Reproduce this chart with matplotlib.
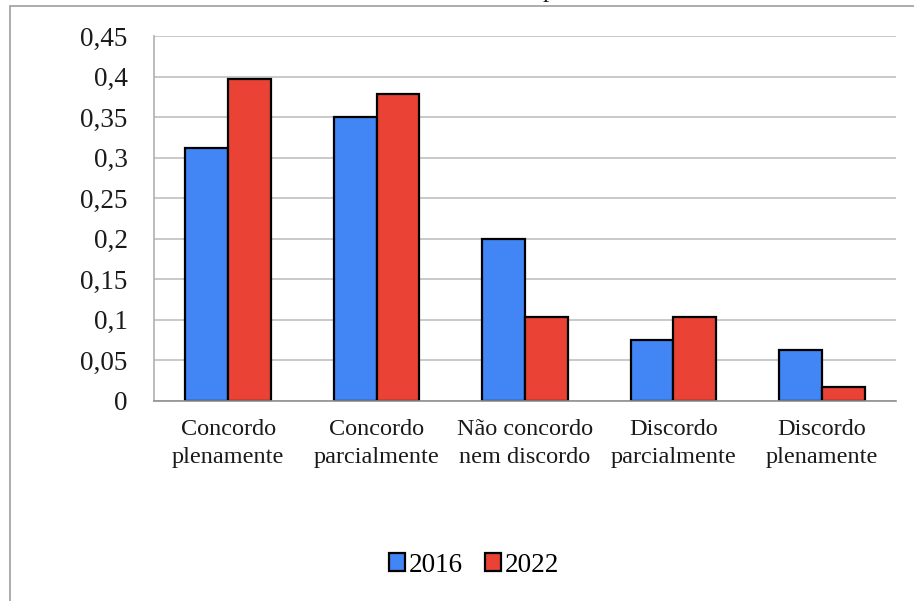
import matplotlib.pyplot as plt
import numpy as np
from matplotlib.patches import Rectangle

# dados
categorias = ['Concordo\nplenamente', 'Concordo\nparcialmente', 'Não concordo\nnem discordo',
              'Discordo\nparcialmente', 'Discordo\nplenamente']
anos = ['2016', '2022']
v2016 = [0.3125, 0.35, 0.2, 0.075, 0.0625]
v2022 = [0.397, 0.379, 0.103, 0.103, 0.017]
yticks = [0, 0.05, 0.1, 0.15, 0.2, 0.25, 0.3, 0.35, 0.4, 0.45]
ytick_labels = ['0', '0,05', '0,1', '0,15', '0,2', '0,25', '0,3', '0,35', '0,4', '0,45']

plt.rcParams['font.family'] = ['Liberation Serif', 'DejaVu Serif']

fig = plt.figure(figsize=(9.14, 6.01), dpi=100)
W, H = 914, 601
ax = fig.add_axes([154 / W, 1 - 401 / H, (896 - 154) / W, (401 - 36) / H])

x = np.arange(len(categorias))
w = 0.288
cor_azul = '#4285F4'
cor_verm = '#EA4335'
ax.bar(x - w / 2, v2016, w, color=cor_azul, edgecolor='black', linewidth=1.6, label=anos[0], zorder=3)
ax.bar(x + w / 2, v2022, w, color=cor_verm, edgecolor='black', linewidth=1.6, label=anos[1], zorder=3)

ax.set_xlim(-0.5, len(categorias) - 0.5)
ax.set_ylim(0, 0.45)
ax.set_yticks(yticks)
ax.set_yticklabels(ytick_labels, fontsize=19.5)
ax.set_xticks(x)
ax.set_xticklabels(categorias, fontsize=17.5, linespacing=1.45)
ax.tick_params(axis='both', length=0, colors='#1a1a1a')
ax.tick_params(axis='y', pad=19)
ax.tick_params(axis='x', pad=13)
ax.grid(axis='y', color='#c0c0c0', linewidth=1.2, zorder=0)
for s in ['top', 'right']:
    ax.spines[s].set_visible(False)
ax.spines['left'].set_color('#b0b0b0')
ax.spines['left'].set_linewidth(1.2)
ax.spines['bottom'].set_color('#909090')
ax.spines['bottom'].set_linewidth(1.2)
ax.spines['bottom'].set_zorder(4)

# borda externa do gráfico (cortada à direita e em baixo)
borda = Rectangle((10 / W, -0.1), 1.2, 1 - 6 / H + 0.1, transform=fig.transFigure,
                  fill=False, edgecolor='#a6a6a6', linewidth=1.3)
fig.patches.append(borda)

# resto do título cortado no topo
fig.text(549 / W, 1 + 2.5 / H, 'p', fontsize=18, ha='center', va='baseline', color='#1a1a1a')

handles, labels = ax.get_legend_handles_labels()
fig.legend(handles, labels, loc='center', bbox_to_anchor=(474 / W, 1 - 565 / H), ncol=2,
           frameon=False, fontsize=19.5, handlelength=0.6, handleheight=0.6,
           handletextpad=0.15, columnspacing=0.8)

fig.savefig('out.png', dpi=100)
